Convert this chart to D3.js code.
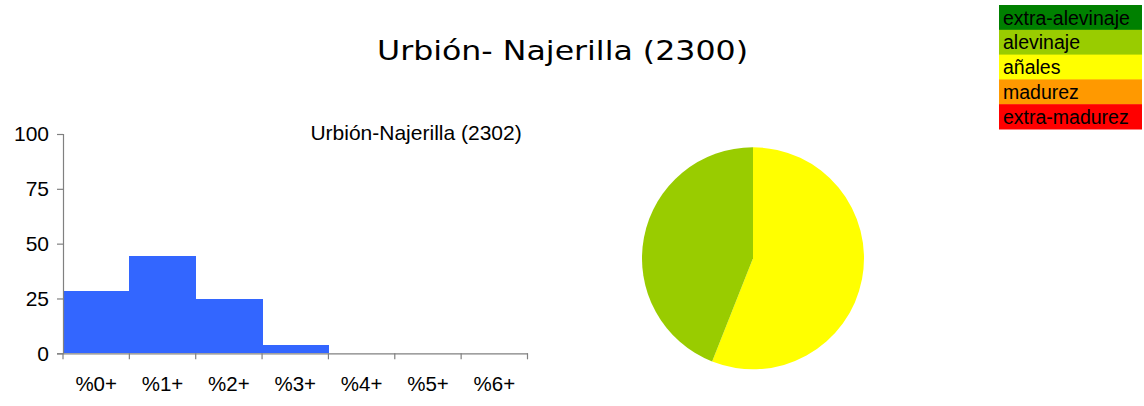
<!DOCTYPE html>
<html>
<head>
<meta charset="utf-8">
<script src="https://cdn.jsdelivr.net/npm/d3@7"></script>
<style>
  html, body { margin: 0; padding: 0; background: #fff; }
  svg text { font-family: "Liberation Sans", Arial, sans-serif; fill: #000; }
</style>
</head>
<body>
<svg id="chart" width="1144" height="406"></svg>
<script>
// Age-class histogram
const classes = ["%0+", "%1+", "%2+", "%3+", "%4+", "%5+", "%6+"];
const percents = [28.4, 44.3, 24.7, 3.7, 0, 0, 0];
const yTicks = [0, 25, 50, 75, 100];

// Maturity stages (legend + pie)
const stages = ["extra-alevinaje", "alevinaje", "añales", "madurez", "extra-madurez"];
const stageColors = ["#008000", "#99CC00", "#FFFF00", "#FF9900", "#FF0000"];
const stageShares = [0, 44, 56, 0, 0];

const mainTitle = "Urbión- Najerilla (2300)";
const subTitle = "Urbión-Najerilla (2302)";

const svg = d3.select("#chart");

// Title
svg.append("text")
  .attr("x", 562.5).attr("y", 60)
  .attr("text-anchor", "middle")
  .style("font-family", "'DejaVu Sans', sans-serif")
  .style("font-size", "26.5px")
  .attr("textLength", 371)
  .attr("lengthAdjust", "spacingAndGlyphs")
  .text(mainTitle);

// Bar chart
const x = d3.scaleBand().domain(classes).range([63, 527.5]).padding(0);
const y = d3.scaleLinear().domain([0, 100]).range([353.3, 134]);

svg.append("g")
  .attr("shape-rendering", "crispEdges")
  .selectAll("rect")
  .data(percents)
  .join("rect")
  .attr("x", (d, i) => x(classes[i]))
  .attr("width", x.bandwidth() + 0.6)
  .attr("y", d => y(d))
  .attr("height", d => y(0) - y(d))
  .attr("fill", "#3366FF");

const yAxis = svg.append("g")
  .attr("transform", "translate(63,0)")
  .call(d3.axisLeft(y).tickValues(yTicks).tickSize(6).tickPadding(8));
yAxis.selectAll("text").style("font-size", "21px");

const xAxis = svg.append("g")
  .attr("transform", `translate(0,${y(0)})`)
  .call(d3.axisBottom(x).tickSize(0).tickPadding(23));
xAxis.selectAll("text").style("font-size", "20.5px");
// boundary ticks between classes
xAxis.selectAll(".bound")
  .data(d3.range(classes.length + 1))
  .join("line")
  .attr("class", "bound")
  .attr("x1", i => 63 + i * x.bandwidth())
  .attr("x2", i => 63 + i * x.bandwidth())
  .attr("y1", 0).attr("y2", 6);

[yAxis, xAxis].forEach(g => {
  g.selectAll("path.domain, line").attr("stroke", "#808080").attr("stroke-width", 1.2);
});

svg.append("text")
  .attr("x", 521.7).attr("y", 140)
  .attr("text-anchor", "end")
  .style("font-size", "21px")
  .text(subTitle);

// Pie chart (drawn clockwise from 12 o'clock)
const order = d3.range(stages.length).reverse();
const pie = d3.pie().sort(null).value(i => stageShares[i]);
const arc = d3.arc().innerRadius(0).outerRadius(111);
svg.append("g")
  .attr("transform", "translate(753,258.3)")
  .selectAll("path")
  .data(pie(order).filter(d => d.value > 0))
  .join("path")
  .attr("d", arc)
  .attr("fill", d => stageColors[d.data]);

// Legend
const leg = svg.append("g").attr("transform", "translate(999,5)");
const rowH = 24.8;
leg.selectAll("rect")
  .data(stages)
  .join("rect")
  .attr("x", 0).attr("y", (d, i) => i * rowH)
  .attr("width", 143).attr("height", rowH + 0.5)
  .attr("fill", (d, i) => stageColors[i]);
leg.selectAll("text")
  .data(stages)
  .join("text")
  .attr("x", 4).attr("y", (d, i) => i * rowH + 19.5)
  .style("font-size", "19.5px")
  .text(d => d);
</script>
</body>
</html>
